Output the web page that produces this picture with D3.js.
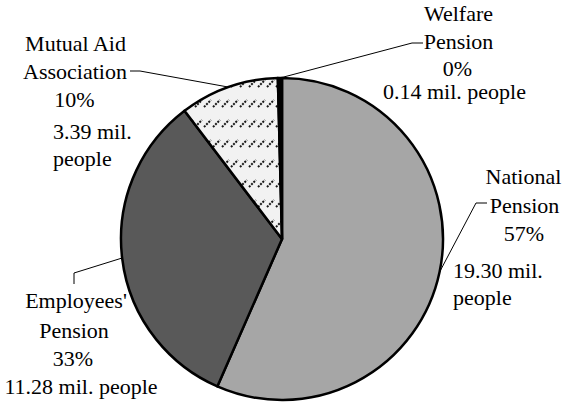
<!DOCTYPE html>
<html><head><meta charset="utf-8">
<script src="https://cdn.jsdelivr.net/npm/d3@7"></script>
</head><body style="margin:0">
<svg id="c" width="567" height="403" style="display:block;background:#fff"></svg>
<script>
const categories = ["National Pension","Employees' Pension","Mutual Aid Association","Welfare Pension"];
const values = [19.30, 11.28, 3.39, 0.14];
const percentLabels = ["57%","33%","10%","0%"];
const peopleLabels = ["19.30 mil. people","11.28 mil. people","3.39 mil. people","0.14 mil. people"];

const svg = d3.select("#c");
const cx = 282, cy = 239, r = 161;

const defs = svg.append("defs");
const pat = defs.append("pattern").attr("id","hatch").attr("patternUnits","userSpaceOnUse")
  .attr("width",9).attr("height",20).attr("x",cx-1).attr("y",cy+1);
pat.append("rect").attr("width",9).attr("height",20).attr("fill","#f2f2f2");
pat.append("line").attr("x1",1).attr("y1",8).attr("x2",8).attr("y2",1)
  .attr("stroke","#1a1a1a").attr("stroke-width",2).attr("stroke-dasharray","2,1.2");

const fills = ["#a6a6a6","#595959","url(#hatch)","#000"];
const pie = d3.pie().sort(null).value(d=>d);
const arcs = pie(values);
const arc = d3.arc().innerRadius(0).outerRadius(r);
const edge = d3.arc().innerRadius(r).outerRadius(r);

const g = svg.append("g").attr("transform",`translate(${cx},${cy})`);
g.selectAll("path").data(arcs).join("path")
  .attr("d",arc).attr("fill",(d,i)=>fills[i])
  .attr("stroke","#000").attr("stroke-width",2.5).attr("stroke-linejoin","round");

const labelLines = [
  [{t:"National",x:523.5,y:184,a:"middle"},{t:"Pension",x:524.5,y:213,a:"middle"},{t:percentLabels[0],x:524,y:241,a:"middle"},{t:"19.30 mil.",x:453,y:278,a:"start"},{t:"people",x:453,y:305,a:"start"}],
  [{t:"Employees'",x:76,y:308,a:"middle"},{t:"Pension",x:74,y:338,a:"middle"},{t:percentLabels[1],x:73,y:366,a:"middle"},{t:peopleLabels[1],x:81,y:394,a:"middle"}],
  [{t:"Mutual Aid",x:75.5,y:51,a:"middle"},{t:"Association",x:75,y:79,a:"middle"},{t:percentLabels[2],x:74.5,y:107,a:"middle"},{t:"3.39 mil.",x:53,y:139,a:"start"},{t:"people",x:53,y:166,a:"start"}],
  [{t:"Welfare",x:458.5,y:21,a:"middle"},{t:"Pension",x:458.5,y:49,a:"middle"},{t:percentLabels[3],x:457.5,y:76,a:"middle"},{t:peopleLabels[3],x:454.5,y:99,a:"middle"}]
];
const elbows = [
  [[476,203],[487,203]],
  [[74,273],[74,284]],
  [[140,71],[130,71]],
  [[412,43],[423,43]]
];

arcs.forEach((d,i)=>{
  const c = edge.centroid(d);
  const pts = [[cx+c[0],cy+c[1]]].concat(elbows[i]);
  svg.append("path").attr("d",d3.line()(pts)).attr("fill","none").attr("stroke","#000").attr("stroke-width",1);
  labelLines[i].forEach(l=>{
    svg.append("text").attr("x",l.x).attr("y",l.y).attr("text-anchor",l.a)
      .style("font-family","'Liberation Serif'").style("font-size","22px").style("fill","#000").text(l.t);
  });
});
</script>
</body></html>
